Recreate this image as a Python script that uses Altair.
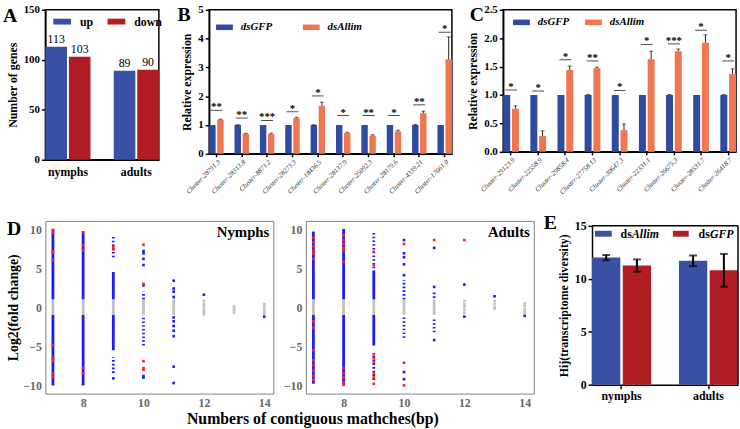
import altair as alt
import pandas as pd

SERIF = "Liberation Serif"
BLUE = "#3a51a3"
RED = "#b11d25"
BLUE2 = "#2f4ba0"
ORANGE = "#f07652"
LEG_PATH = "M-1,-0.33H1V0.33H-1Z"

# ---------------- Panel A ----------------
A_stages = ["nymphs", "adults"]
A_kinds = ["up", "down"]
A_up = [113, 89]
A_down = [103, 90]

# ---------------- Panel B ----------------
B_clusters = ["Cluster-28791.3", "Cluster-28313.8", "Cluster-8871.2", "Cluster-28273.3",
              "Cluster-18436.5", "Cluster-28137.9", "Cluster-25092.3", "Cluster-28179.6",
              "Cluster-4339.21", "Cluster-17661.0"]
B_gfp = [1.0, 1.0, 1.0, 1.0, 1.0, 1.0, 1.0, 1.0, 1.0, 1.0]
B_gfp_err = [0.0, 0.01, 0.0, 0.0, 0.01, 0.0, 0.0, 0.0, 0.02, 0.0]
B_allim = [1.18, 0.69, 0.69, 1.24, 1.67, 0.72, 0.63, 0.78, 1.41, 3.28]
B_allim_err = [0.02, 0.02, 0.03, 0.03, 0.12, 0.03, 0.03, 0.04, 0.07, 0.78]
B_stars = ["**", "**", "***", "*", "*", "*", "**", "*", "**", "*"]
B_star_y = [1.51, 1.24, 1.16, 1.46, 2.01, 1.33, 1.33, 1.33, 1.70, 4.22]

# ---------------- Panel C ----------------
C_clusters = ["Cluster-29123.9", "Cluster-22558.9", "Cluster-29858.4", "Cluster-27758.13",
              "Cluster-30647.3", "Cluster-22331.1", "Cluster-26675.3", "Cluster-28531.7",
              "Cluster-26418.7"]
C_gfp = [1.0, 1.0, 1.0, 1.0, 1.0, 1.0, 1.0, 1.0, 1.0]
C_gfp_err = [0.0, 0.0, 0.0, 0.01, 0.0, 0.0, 0.01, 0.0, 0.01]
C_allim = [0.76, 0.28, 1.44, 1.47, 0.38, 1.63, 1.77, 1.92, 1.37]
C_allim_err = [0.05, 0.09, 0.07, 0.02, 0.11, 0.14, 0.04, 0.14, 0.09]
C_stars = ["*", "*", "*", "**", "*", "*", "***", "*", "*"]
C_star_y = [1.09, 1.07, 1.62, 1.60, 1.08, 1.89, 1.90, 2.14, 1.60]

# ---------------- Panel D (Nymphs) ----------------
DN_seg_x = [7, 7, 7, 8, 8, 8, 9, 9, 9, 9, 9, 10, 10, 10, 11]
DN_seg_lo = [1.0, -1.0, -10.0, 1.0, -1.0, -10.0, 6.4, 1.0, -1.0, -5.5, -8.4, 1.0, -1.0, -4.9, -1.0]
DN_seg_hi = [10.0, 1.0, -1.0, 9.7, 1.0, -1.0, 9.2, 4.5, 1.0, -1.0, -6.4, 2.0, 1.0, -1.1, 1.0]
DN_seg_cls = ["sig", "ns", "sig", "sig", "ns", "sig", "sig", "sig", "ns", "sig", "sig", "sig", "ns", "sig", "ns"]
DN_seg_den = ["dense", "dense", "dense", "dense", "dense", "dense", "sparse", "dense", "dense", "dense",
              "sparse", "sparse", "dense", "sparse", "dense"]
DN_pt_x = [7, 7, 7, 7, 7, 7, 7, 7, 7, 7,
           8, 8, 8, 8, 8,
           9, 9, 9,
           10, 10, 10, 10, 10, 10, 10, 10, 10, 10, 10, 10,
           11, 11, 11, 11, 11, 11, 11, 11, 11, 11, 11,
           12, 12, 12, 12, 12, 12, 12,
           13, 13, 13, 13,
           14, 14, 14, 14, 14, 14]
DN_pt_y = [9.9, 9.6, 7.2, 7.0, 6.0, -4.9, -6.5, -6.8, -8.5, -8.9,
           9.6, 7.9, 7.3, -7.8, -8.5,
           7.7, 7.4, -9.1,
           8.0, 7.2, 6.9, 6.2, 5.4, 3.0, 2.8, -6.9, -7.8, -8.0, -8.8, -9.0,
           3.4, 2.4, 2.0, 1.3, -1.3, -1.8, -2.4, -3.0, -3.7, -7.6, -9.7,
           1.6, 0.8, 0.4, 0.1, -0.3, -0.6, -0.9,
           0.1, -0.2, -0.4, -0.7,
           0.4, 0.1, -0.3, -0.6, -0.9, -1.2]
DN_pt_cls = ["top", "top", "top", "top", "top", "top", "top", "top", "top", "top",
             "top", "top", "top", "top", "top",
             "top", "top", "sig",
             "top", "sig", "sig", "sig", "sig", "top", "sig", "top", "top", "top", "sig", "sig",
             "sig", "sig", "sig", "sig", "sig", "sig", "sig", "sig", "sig", "sig", "sig",
             "sig", "ns", "ns", "ns", "ns", "ns", "ns",
             "ns", "ns", "ns", "ns",
             "ns", "ns", "ns", "ns", "ns", "sig"]

# ---------------- Panel D (Adults) ----------------
DA_seg_x = [7, 7, 7, 8, 8, 8, 9, 9, 9, 9, 9, 10, 10, 10, 11, 11, 11]
DA_seg_lo = [1.0, -1.0, -9.8, 1.0, -1.0, -10.0, 4.5, 1.0, -1.0, -4.9, -9.3, 1.0, -1.0, -3.9, 1.2, -1.0, -3.2]
DA_seg_hi = [9.7, 1.0, -1.0, 10.0, 1.0, -1.0, 9.8, 4.5, 1.0, -1.0, -5.9, 3.5, 1.0, -1.1, 2.0, 1.0, -1.3]
DA_seg_cls = ["sig", "ns", "sig", "sig", "ns", "sig", "sig", "sig", "ns", "sig", "sig",
              "sig", "ns", "sig", "sig", "ns", "sig"]
DA_seg_den = ["dense", "dense", "dense", "dense", "dense", "dense", "sparse", "dense", "dense", "dense",
              "sparse", "sparse", "dense", "sparse", "sparse", "dense", "sparse"]
DA_pt_x = [7, 7, 7, 7, 7, 7, 7, 7, 7, 7, 7, 7, 7, 7,
           8, 8, 8, 8, 8, 8, 8, 8, 8, 8, 8,
           9, 9, 9, 9, 9, 9, 9, 9,
           10, 10, 10, 10, 10, 10, 10, 10, 10, 10,
           11, 11, 11, 11,
           12, 12, 12, 12, 12, 12, 12, 12,
           13, 13, 13, 13, 13,
           14, 14, 14, 14, 14, 14]
DA_pt_y = [8.9, 8.3, 7.8, 7.3, 6.9, 6.2, -1.8, -2.6, -5.5, -6.8, -7.4, -8.1, -8.8, -9.3,
           9.2, 8.6, 8.1, 7.6, 7.3, 5.8, -7.8, -8.4, -9.0, -9.6, -9.9,
           7.1, 5.4, -6.0, -6.5, -7.0, -8.5, -9.0, -9.8,
           8.6, 8.1, 6.9, 6.4, 5.5, 4.1, -7.1, -8.3, -9.2, -10.0,
           8.6, 7.6, 2.6, -4.2,
           8.6, 2.9, 0.8, 0.4, 0.1, -0.3, -0.7, -1.2,
           1.4, 0.8, 0.4, 0.0, -0.2,
           0.5, 0.2, -0.2, -0.5, -0.7, -1.1]
DA_pt_cls = ["top"] * 14 + ["top"] * 11 + ["top"] * 8 + \
    ["sig", "top", "sig", "sig", "sig", "sig", "top", "sig", "sig", "top"] + \
    ["top", "sig", "sig", "sig"] + \
    ["top", "sig", "ns", "ns", "ns", "ns", "ns", "sig"] + \
    ["sig", "ns", "ns", "ns", "ns"] + \
    ["ns", "ns", "ns", "ns", "ns", "sig"]

# ---------------- Panel E ----------------
E_stages = ["nymphs", "adults"]
E_groups = ["dsAllim", "dsGFP"]
E_allim = [12.0, 11.7]
E_allim_err = [0.25, 0.5]
E_gfp = [11.25, 10.8]
E_gfp_err = [0.58, 1.55]

INDEP = dict(color="independent", xOffset="independent", strokeDash="independent")


def letter_layer(letter, dx, dy, size=20):
    return alt.Chart(pd.DataFrame({"t": [letter]})).mark_text(
        font=SERIF, fontSize=size, fontWeight="bold", align="left", baseline="top", color="black"
    ).encode(text="t:N", x=alt.value(dx), y=alt.value(dy))


# ---------- A ----------
a_df = pd.DataFrame({"stage": A_stages * 2, "kind": ["up"] * 2 + ["down"] * 2, "n": A_up + A_down})
a_x = alt.X("stage:N", sort=A_stages, scale=alt.Scale(paddingInner=0.34, paddingOuter=0.0),
            axis=alt.Axis(title=None, labelAngle=0, ticks=False, labelPadding=7, labelFontSize=12,
                          domainWidth=1.5))
a_y = alt.Y("n:Q", scale=alt.Scale(domain=[0, 150], nice=False),
            axis=alt.Axis(title="Number of genes", values=[0, 50, 100, 150], tickSize=4, tickWidth=1.5,
                          labelFontSize=11, titleFontSize=12, titlePadding=4, domainWidth=1.5))
a_off = alt.XOffset("kind:N", sort=A_kinds, scale=alt.Scale(domain=A_kinds, paddingInner=0.08))
a_col = alt.Color("kind:N", sort=A_kinds, scale=alt.Scale(domain=A_kinds, range=[BLUE, RED]),
                  legend=alt.Legend(title=None, orient="none", legendX=8, legendY=3, direction="horizontal",
                                    symbolType=LEG_PATH, symbolSize=324, symbolStrokeWidth=0,
                                    labelFontSize=12, labelOffset=9, columnPadding=14,
                                    labelFont=SERIF, labelFontWeight="bold"))
a_bars = alt.Chart(a_df).mark_bar().encode(x=a_x, xOffset=a_off, y=a_y, color=a_col)
a_text = alt.Chart(a_df).mark_text(font=SERIF, fontSize=12, baseline="bottom", dy=-1, color="black").encode(
    x=a_x, xOffset=a_off, y=a_y, text="n:Q")
A = alt.layer(a_bars, a_text, letter_layer("A", -43, -4)).properties(width=115, height=152)


# ---------- B / C ----------
def expr_chart(clusters, gfp, gfp_err, allim, allim_err, stars, star_y, ymax, yvals, yfmt,
               w, h, letter, ldx, legx, legy, colpad, pad_inner):
    trt = ["dsGFP", "dsAllim"]
    n = len(clusters)
    bars = pd.DataFrame({"cluster": clusters + clusters, "trt": ["dsGFP"] * n + ["dsAllim"] * n,
                         "val": gfp + allim, "err": gfp_err + allim_err})
    bars["hi"] = bars["val"] + bars["err"]
    errs = bars[bars["err"] > 0]
    sig = pd.DataFrame({"cluster": clusters, "star": stars, "y": star_y})
    x = alt.X("cluster:N", sort=clusters, scale=alt.Scale(paddingInner=pad_inner, paddingOuter=0.0),
              axis=alt.Axis(title=None, labelAngle=-45, labelFontSize=7, labelFontStyle="italic",
                            labelFontWeight="normal", labelColor="#333", tickSize=3, tickWidth=1.5,
                            labelPadding=1, domainWidth=1.5))

    def y(field):
        return alt.Y(field, scale=alt.Scale(domain=[0, ymax], nice=False),
                     axis=alt.Axis(title="Relative expression", values=yvals, format=yfmt, tickSize=4,
                                   tickWidth=1.5, labelFontSize=11, titleFontSize=12, titlePadding=4,
                                   domainWidth=1.5))
    off = alt.XOffset("trt:N", sort=trt, scale=alt.Scale(domain=trt, paddingInner=0.2))
    col = alt.Color("trt:N", sort=trt, scale=alt.Scale(domain=trt, range=[BLUE2, ORANGE]),
                    legend=alt.Legend(title=None, orient="none", legendX=legx, legendY=legy,
                                      direction="horizontal", symbolType=LEG_PATH, symbolSize=289,
                                      symbolStrokeWidth=0, labelFontSize=11, labelOffset=8,
                                      columnPadding=colpad, labelFont=SERIF, labelFontWeight="bold",
                                      labelFontStyle="italic"))
    b = alt.Chart(bars).mark_bar().encode(x=x, xOffset=off, y=y("val:Q"), color=col)
    r = alt.Chart(errs).mark_rule(color="#222", strokeWidth=1).encode(x=x, xOffset=off, y=y("val:Q"), y2="hi:Q")
    cap = alt.Chart(errs).mark_tick(orient="horizontal", size=4, thickness=1, color="#222").encode(
        x=x, xOffset=off, y=y("hi:Q"))
    line = alt.Chart(sig).mark_tick(orient="horizontal", size=12, thickness=1, color="black").encode(
        x=x, y=y("y:Q"))
    st = alt.Chart(sig).mark_text(font=SERIF, fontSize=11, fontWeight="bold", baseline="bottom", dy=2,
                                  color="black").encode(x=x, y=y("y:Q"), text="star:N")
    return alt.layer(b, r, cap, line, st, letter_layer(letter, ldx, -5)).properties(width=w, height=h)


B = expr_chart(B_clusters, B_gfp, B_gfp_err, B_allim, B_allim_err, B_stars, B_star_y, 5,
               [0, 1, 2, 3, 4, 5], "d", 246, 146, "B", -32, 7, 9, 31, 0.43)
C = expr_chart(C_clusters, C_gfp, C_gfp_err, C_allim, C_allim_err, C_stars, C_star_y, 2.5,
               [0, 0.5, 1.0, 1.5, 2.0, 2.5], ".1f", 236, 144, "C", -34, 10, 4, 16, 0.42)


# ---------- D ----------
def d_panel(seg_x, seg_lo, seg_hi, seg_cls, seg_den, pt_x, pt_y, pt_cls, label, first):
    seg = pd.DataFrame({"x": seg_x, "lo": seg_lo, "hi": seg_hi, "cls": seg_cls, "den": seg_den})
    pts = pd.DataFrame({"x": pt_x, "y": pt_y, "cls": pt_cls})
    order = {"ns": 0, "sig": 1, "top": 2}
    pts["o"] = pts["cls"].map(order)
    pts = pts.sort_values("o", kind="stable")
    xsc = alt.Scale(domain=[6.75, 14.3], nice=False, zero=False)
    ysc = alt.Scale(domain=[-11.05, 11.05], nice=False, zero=False)
    csc = alt.Scale(domain=["sig", "top", "ns"], range=["#1a1aff", "#ff2020", "#c0c0c0"])
    xax = alt.Axis(values=[8, 10, 12, 14], title=None, domain=False, ticks=False, labelColor="#666",
                   labelFontSize=12, labelPadding=4, grid=False)
    yax = alt.Axis(values=[-10, -5, 0, 5, 10], title="Log2(fold change)" if first else None,
                   domain=False, ticks=False, labelColor="#666", labelFontSize=12, labelPadding=4,
                   titleFontSize=14, titlePadding=2, grid=False)
    rules = alt.Chart(seg).mark_rule(strokeWidth=2.8, strokeCap="butt").encode(
        x=alt.X("x:Q", scale=xsc, axis=xax),
        y=alt.Y("lo:Q", scale=ysc, axis=yax),
        y2="hi:Q",
        color=alt.Color("cls:N", scale=csc, legend=None),
        strokeDash=alt.StrokeDash("den:N", scale=alt.Scale(domain=["dense", "sparse"], range=[[1, 0], [1.6, 2.2]]),
                                  legend=None),
    )
    dots = alt.Chart(pts).mark_square(size=7, opacity=1).encode(
        x=alt.X("x:Q", scale=xsc, axis=xax),
        y=alt.Y("y:Q", scale=ysc, axis=yax),
        color=alt.Color("cls:N", scale=csc, legend=None),
        order="o:Q",
    )
    lab = alt.Chart(pd.DataFrame({"t": [label]})).mark_text(
        font=SERIF, fontSize=15, fontWeight="bold", align="right", baseline="top", color="black"
    ).encode(text="t:N", x=alt.value(227), y=alt.value(4))
    layers = [rules, dots, lab]
    if first:
        layers.append(letter_layer("D", -39, -2))
    return alt.layer(*layers).properties(width=231, height=175,
                                          view=alt.ViewBackground(stroke="#808080", strokeWidth=1))


D1 = d_panel(DN_seg_x, DN_seg_lo, DN_seg_hi, DN_seg_cls, DN_seg_den, DN_pt_x, DN_pt_y, DN_pt_cls, "Nymphs", True)
D2 = d_panel(DA_seg_x, DA_seg_lo, DA_seg_hi, DA_seg_cls, DA_seg_den, DA_pt_x, DA_pt_y, DA_pt_cls, "Adults", False)

# ---------- E ----------
e_df = pd.DataFrame({"stage": E_stages * 2, "grp": ["dsAllim"] * 2 + ["dsGFP"] * 2,
                     "v": E_allim + E_gfp, "err": E_allim_err + E_gfp_err})
e_df["lo"] = e_df["v"] - e_df["err"]
e_df["hi"] = e_df["v"] + e_df["err"]
EW, EH = 148, 166
e_x = alt.X("stage:N", sort=E_stages, scale=alt.Scale(paddingInner=0.32, paddingOuter=0.0),
            axis=alt.Axis(title=None, labelAngle=0, tickSize=4, tickWidth=1.5, labelPadding=2,
                          labelFontSize=12, domainWidth=1.5))


def e_y(field):
    return alt.Y(field, scale=alt.Scale(domain=[0, 15], nice=False, range=[EH, 5]),
                 axis=alt.Axis(title="Hij(transcriptome diversity)", values=[0, 5, 10, 15], tickSize=4,
                               tickWidth=1.5, labelFontSize=12, titleFontSize=12, titlePadding=4,
                               domainWidth=1.5))


e_off = alt.XOffset("grp:N", sort=E_groups, scale=alt.Scale(domain=E_groups, paddingInner=0.08))
e_col = alt.Color("grp:N", sort=E_groups, scale=alt.Scale(domain=E_groups, range=[BLUE, RED]), legend=None)
e_bars = alt.Chart(e_df).mark_bar().encode(x=e_x, xOffset=e_off, y=e_y("v:Q"), color=e_col)
e_rule = alt.Chart(e_df).mark_rule(color="black", strokeWidth=2).encode(x=e_x, xOffset=e_off, y=e_y("lo:Q"), y2="hi:Q")
e_cap1 = alt.Chart(e_df).mark_tick(orient="horizontal", size=8, thickness=2, color="black").encode(
    x=e_x, xOffset=e_off, y=e_y("hi:Q"))
e_cap2 = alt.Chart(e_df).mark_tick(orient="horizontal", size=8, thickness=2, color="black").encode(
    x=e_x, xOffset=e_off, y=e_y("lo:Q"))
one = pd.DataFrame({"k": [0]})
e_top = alt.Chart(one).mark_rule(color="black", strokeWidth=1.5).encode(
    x=alt.value(0), x2=alt.value(EW), y=alt.datum(15))
e_right = alt.Chart(one).mark_rule(color="black", strokeWidth=1.5).encode(
    x=alt.value(EW), y=alt.datum(0), y2=alt.datum(15))
leg_rects = [
    alt.Chart(one).mark_rect(color=BLUE).encode(x=alt.value(3), x2=alt.value(20), y=alt.value(10), y2=alt.value(16)),
    alt.Chart(one).mark_rect(color=RED).encode(x=alt.value(82), x2=alt.value(98), y=alt.value(10), y2=alt.value(16)),
]


def leg_text(t, dx, italic):
    return alt.Chart(pd.DataFrame({"t": [t]})).mark_text(
        font=SERIF, fontSize=12, fontWeight="bold", fontStyle="italic" if italic else "normal",
        align="left", baseline="middle", color="black").encode(text="t:N", x=alt.value(dx), y=alt.value(13))


E = alt.layer(e_bars, e_rule, e_cap1, e_cap2, e_top, e_right, *leg_rects,
              leg_text("ds", 29, False), leg_text("Allim", 40.5, True),
              leg_text("ds", 108, False), leg_text("GFP", 119.5, True),
              letter_layer("E", -49, -8)).properties(
    width=EW, height=EH, view=alt.ViewBackground(stroke="transparent"))

top = alt.hconcat(A, B, C, spacing=13).resolve_scale(**INDEP)
bottom = alt.hconcat(D1, D2, E, spacing=8,
                     title=alt.TitleParams("Numbers of contiguous mathches(bp)", orient="bottom", anchor="start",
                                           dx=183, offset=2, fontSize=16, font=SERIF, fontWeight="bold",
                                           color="black")).resolve_scale(**INDEP)
chart = alt.vconcat(top, bottom, spacing=16).resolve_scale(**INDEP).properties(
    padding={"left": 2, "top": 0, "right": 0, "bottom": 0}
).configure_axis(
    labelFont=SERIF, titleFont=SERIF, labelFontWeight="bold", titleFontWeight="bold",
    labelColor="black", titleColor="black", domainColor="black", tickColor="black", grid=False
).configure_view(stroke="black", strokeWidth=1.5).configure_legend(
    labelFont=SERIF, labelFontWeight="bold", labelColor="black"
).configure_title(font=SERIF)

chart.save("out.html", embed_options={"renderer": "svg", "actions": False})
